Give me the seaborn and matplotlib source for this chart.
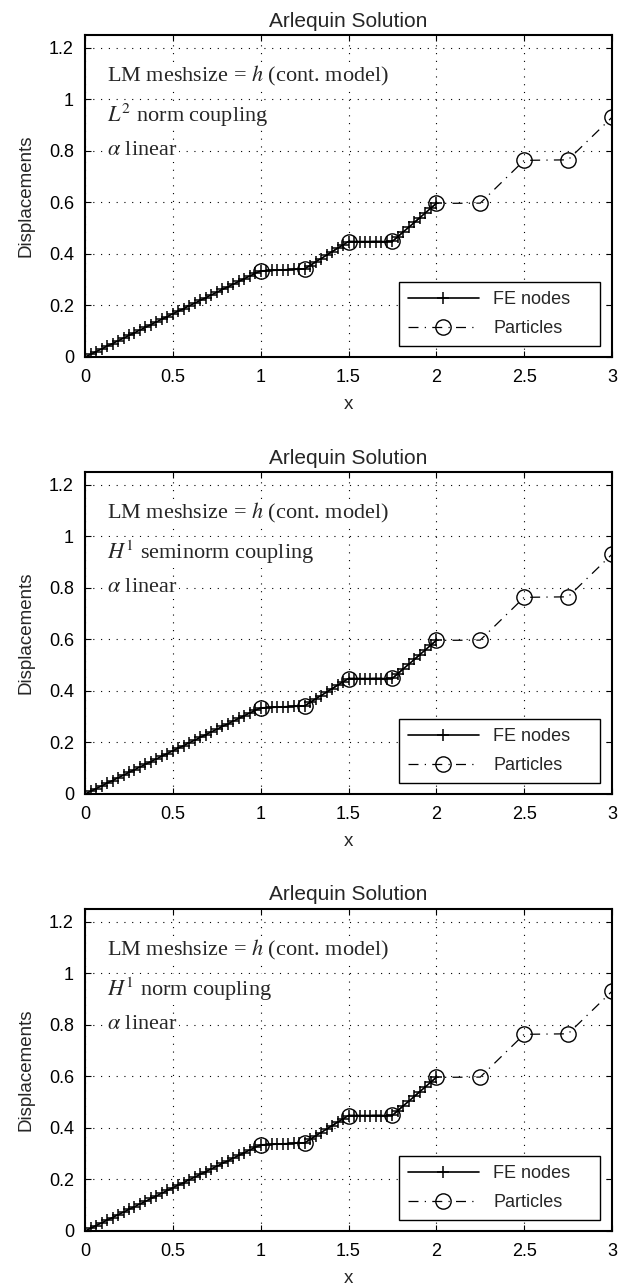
import numpy as np
import matplotlib
matplotlib.use("Agg")
import matplotlib.pyplot as plt
import seaborn as sns
from matplotlib.ticker import FuncFormatter

# FE nodes (mesh size 1/32 on [0, 2])
fe_x = [
    0.0, 0.03125, 0.0625, 0.09375, 0.125, 0.15625, 0.1875, 0.21875,
    0.25, 0.28125, 0.3125, 0.34375, 0.375, 0.40625, 0.4375, 0.46875,
    0.5, 0.53125, 0.5625, 0.59375, 0.625, 0.65625, 0.6875, 0.71875,
    0.75, 0.78125, 0.8125, 0.84375, 0.875, 0.90625, 0.9375, 0.96875,
    1.0, 1.03125, 1.0625, 1.09375, 1.125, 1.15625, 1.1875, 1.21875,
    1.25, 1.28125, 1.3125, 1.34375, 1.375, 1.40625, 1.4375, 1.46875,
    1.5, 1.53125, 1.5625, 1.59375, 1.625, 1.65625, 1.6875, 1.71875,
    1.75, 1.78125, 1.8125, 1.84375, 1.875, 1.90625, 1.9375, 1.96875,
    2.0,
]
fe_disp = [
    0.000, 0.010, 0.021, 0.031, 0.042, 0.052, 0.063, 0.073,
    0.084, 0.094, 0.105, 0.115, 0.126, 0.136, 0.147, 0.157,
    0.168, 0.178, 0.188, 0.199, 0.209, 0.220, 0.230, 0.241,
    0.251, 0.262, 0.272, 0.283, 0.293, 0.304, 0.314, 0.325,
    0.334, 0.335, 0.336, 0.337, 0.338, 0.339, 0.340, 0.341,
    0.342, 0.355, 0.369, 0.382, 0.395, 0.409, 0.422, 0.435,
    0.448, 0.448, 0.448, 0.448, 0.448, 0.448, 0.448, 0.448,
    0.449, 0.467, 0.486, 0.504, 0.522, 0.541, 0.559, 0.578,
    0.596,
]

# particles
part_x = [1.0, 1.25, 1.5, 1.75, 2.0, 2.25, 2.5, 2.75, 3.0]
part_disp = [0.334, 0.342, 0.448, 0.449, 0.596, 0.597, 0.763, 0.765, 0.930]

coupling_labels = [
    r"$L^2$ norm coupling",
    r"$H^1$ seminorm coupling",
    r"$H^1$ norm coupling",
]

sns.set_theme(style="ticks")
plt.rcParams["font.family"] = ["Liberation Sans", "DejaVu Sans"]
plt.rcParams["mathtext.fontset"] = "stix"
plt.rcParams["xtick.direction"] = "in"
plt.rcParams["ytick.direction"] = "in"

fig = plt.figure(figsize=(6.28, 12.86), dpi=100)
bottoms = [0.7224, 0.3826, 0.0428]
fmt = FuncFormatter(lambda v, p: f"{v:g}")

for bottom, label in zip(bottoms, coupling_labels):
    ax = fig.add_axes([0.1355, bottom, 0.839, 0.2505])

    sns.lineplot(x=fe_x, y=fe_disp, ax=ax, color="black", lw=1.2,
                 marker="+", markersize=8.5, mec="black", mew=1.1,
                 sort=False, label="FE nodes")
    sns.lineplot(x=part_x, y=part_disp, ax=ax, color="black", lw=0.9,
                 linestyle=(0, (8, 5, 1, 5)), marker="o", markersize=11,
                 mfc="none", mec="black", mew=1.0, sort=False,
                 label="Particles")

    ax.set_xlim(0, 3)
    ax.set_ylim(0, 1.25)
    ax.set_xticks([0, 0.5, 1, 1.5, 2, 2.5, 3])
    ax.set_yticks([0, 0.2, 0.4, 0.6, 0.8, 1.0, 1.2])
    ax.xaxis.set_major_formatter(fmt)
    ax.yaxis.set_major_formatter(fmt)
    ax.tick_params(axis="both", labelsize=13, colors="black", length=4,
                   width=0.8, top=True, right=True)
    ax.tick_params(axis="x", pad=9)
    ax.tick_params(axis="y", pad=8)
    ax.grid(True, linestyle=(0, (1, 6)), color="black", lw=0.8)
    for s in ax.spines.values():
        s.set_visible(True)
        s.set_color("black")
        s.set_linewidth(1.5)

    ax.set_title("Arlequin Solution", fontsize=15, pad=6)
    ax.set_xlabel("x", fontsize=13.5, labelpad=7)
    ax.set_ylabel("Displacements", fontsize=13.5, labelpad=10)

    serif = dict(family=["Liberation Serif", "DejaVu Serif"], fontsize=16,
                 va="center", ha="left",
                 bbox=dict(facecolor="white", edgecolor="none", pad=1))
    ax.text(0.125, 1.092, "LM meshsize = $h$ (cont. model)", **serif)
    ax.text(0.125, 0.937, label, **serif)
    ax.text(0.125, 0.80, r"$\alpha$ linear", **serif)

    leg = ax.legend(loc="lower left", bbox_to_anchor=(0.596, 0.034, 0.381, 0.2),
                    mode="expand", fontsize=13, handlelength=3.9,
                    frameon=True, fancybox=False, borderpad=0.5,
                    labelspacing=0.65, handletextpad=0.8, borderaxespad=0)
    leg.get_frame().set_edgecolor("black")
    leg.get_frame().set_linewidth(1.0)
    leg.get_frame().set_alpha(1)

fig.savefig("out.png", dpi=100)
